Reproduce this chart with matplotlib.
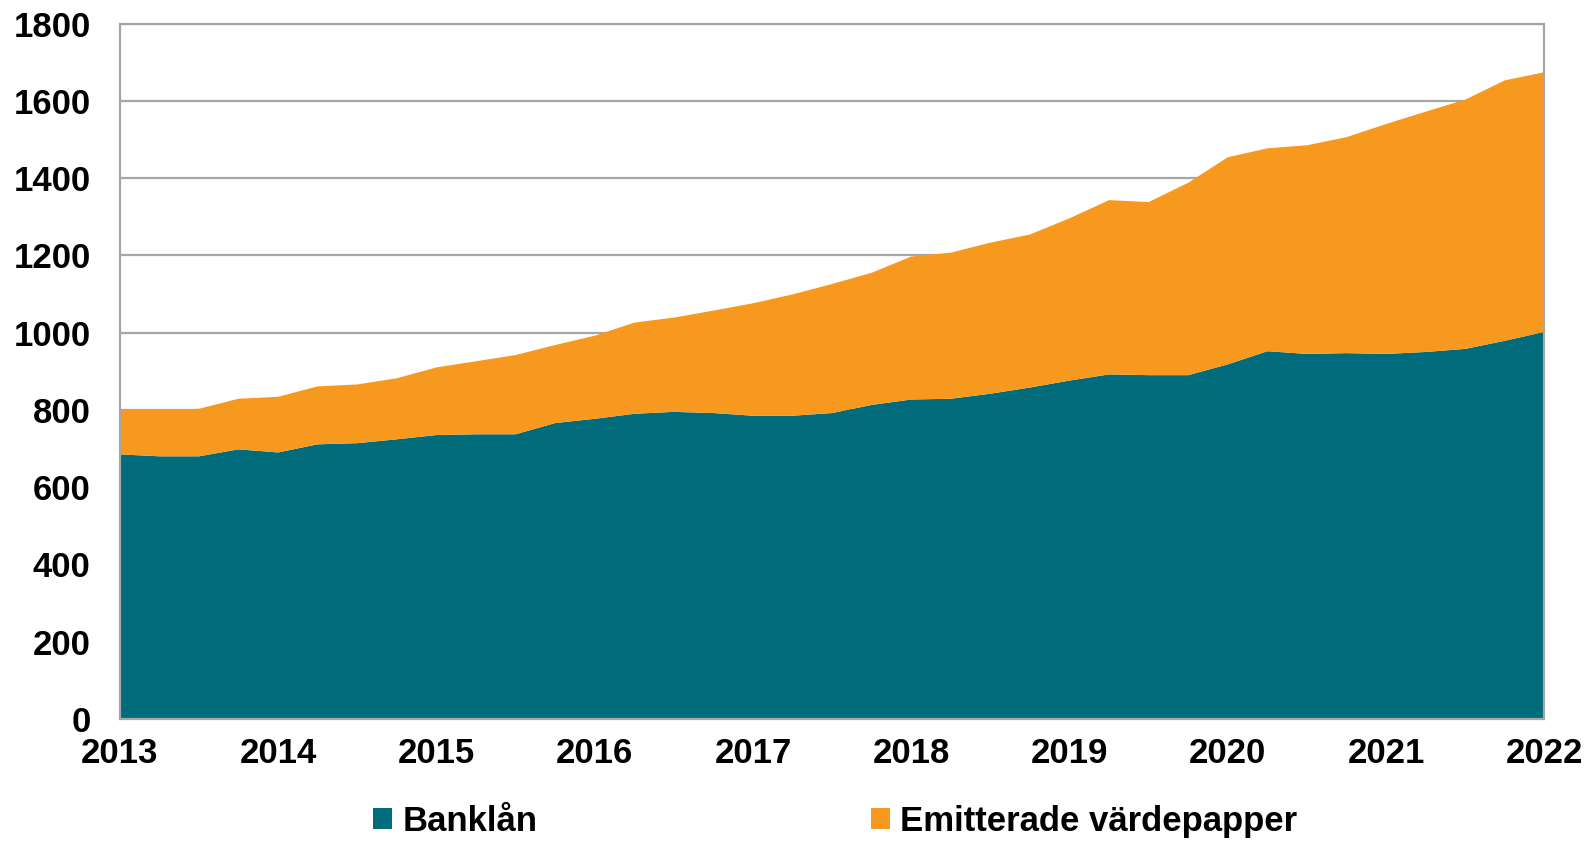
import matplotlib
matplotlib.use("Agg")
import matplotlib.pyplot as plt
from matplotlib.patches import Patch
import numpy as np

plt.rcParams['font.family'] = ['Liberation Sans', 'DejaVu Sans']
plt.rcParams['font.weight'] = 'bold'

# Quarterly data 2013Q1 .. 2022Q1
start_year = 2013
banklan = [685, 680, 680, 698, 690, 711, 714, 724, 735, 737, 737, 766,
           777, 790, 795, 792, 785, 785, 792, 813, 827, 829, 842, 858,
           876, 892, 890, 890, 918, 952, 945, 947, 945, 950, 958, 979, 1002]
total = [800, 800, 803, 829, 834, 861, 866, 882, 910, 926, 942, 968,
         992, 1026, 1039, 1057, 1076, 1099, 1126, 1155, 1197, 1207, 1233, 1254,
         1296, 1343, 1338, 1388, 1454, 1477, 1485, 1506, 1540, 1572, 1603, 1653, 1674]
emitterade = [t - b for t, b in zip(total, banklan)]
labels = ["Banklån", "Emitterade värdepapper"]
year_ticks = list(range(2013, 2023))
y_ticks = list(range(0, 1801, 200))

teal = "#006b7b"
orange = "#f7981f"
grid = "#a6a6a6"

x = start_year + np.arange(len(banklan)) / 4.0

fig = plt.figure(figsize=(15.91, 8.41), dpi=100)
ax = fig.add_axes([0.0753, 0.145, 0.8954, 0.827])
ax.stackplot(x, banklan, emitterade, colors=[teal, orange], linewidth=0)
ax.set_xlim(2013, 2022)
ax.set_ylim(0, 1800)
ax.set_yticks(y_ticks)
ax.set_xticks(year_ticks)
ax.yaxis.grid(True, color=grid, linewidth=1.6)
ax.set_axisbelow(True)
for s in ['left', 'right', 'top', 'bottom']:
    ax.spines[s].set_color(grid)
    ax.spines[s].set_linewidth(1.6)
ax.tick_params(axis='both', length=0, labelsize=25, colors='black')
ax.tick_params(axis='x', pad=13)
ax.tick_params(axis='y', pad=21)
for lbl in ax.get_xticklabels() + ax.get_yticklabels():
    lbl.set_fontweight('bold')

handles = [Patch(facecolor=teal, edgecolor='none'), Patch(facecolor=orange, edgecolor='none')]
leg = fig.legend(handles, labels, loc='center', bbox_to_anchor=(0.525, 0.023), ncol=2,
                 frameon=False, fontsize=25, handlelength=0.55, handleheight=0.55,
                 handletextpad=0.3, columnspacing=9.6, borderpad=0)
for t in leg.get_texts():
    t.set_fontweight('bold')

fig.savefig("out.png", dpi=100)
